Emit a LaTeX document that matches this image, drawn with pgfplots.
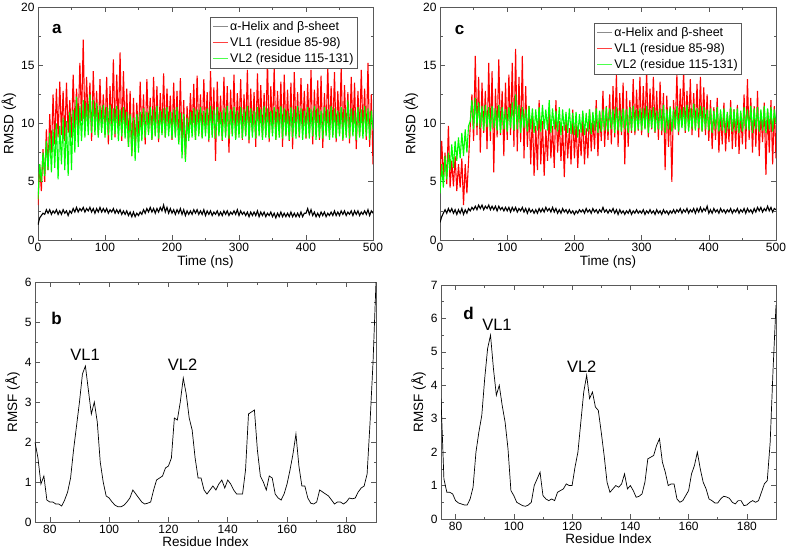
\documentclass[border=0pt]{standalone}
\usepackage{pgfplots}
\pgfplotsset{compat=1.18}
\usepackage{pgfplotstable}
\usepackage{fontspec}
\setmainfont{Liberation Sans}
\definecolor{axgray}{gray}{0.35}

% ---------------- panel a data (every 2.5 ns) ----------------
\pgfplotstableread[row sep=\\]{
y\\
1.3\\1.9\\2.1\\2.3\\2.2\\2.6\\2.3\\2.6\\2.2\\2.5\\2.3\\2.6\\2.2\\2.5\\2.2\\2.6\\2.3\\2.5\\2.1\\2.5\\
2.3\\2.7\\2.4\\2.8\\2.4\\2.7\\2.5\\2.8\\2.4\\2.7\\2.5\\2.8\\2.4\\2.7\\2.3\\2.7\\2.4\\2.8\\2.4\\2.7\\
2.4\\2.7\\2.3\\2.6\\2.4\\2.7\\2.3\\2.6\\2.3\\2.6\\2.2\\2.5\\2.2\\2.5\\2.1\\2.4\\2.0\\2.4\\2.0\\2.3\\
2.1\\2.4\\2.2\\2.6\\2.3\\2.7\\2.4\\2.8\\2.4\\2.7\\2.3\\2.7\\2.4\\2.8\\2.5\\3.0\\2.4\\2.8\\2.3\\2.7\\
2.3\\2.6\\2.2\\2.6\\2.3\\2.7\\2.2\\2.6\\2.1\\2.5\\2.2\\2.5\\2.2\\2.6\\2.3\\2.6\\2.2\\2.5\\2.2\\2.6\\
2.1\\2.5\\2.2\\2.5\\2.1\\2.4\\2.2\\2.5\\2.1\\2.4\\2.1\\2.5\\2.2\\2.5\\2.1\\2.4\\2.2\\2.5\\2.2\\2.6\\
2.1\\2.5\\2.2\\2.4\\2.1\\2.4\\2.0\\2.4\\2.1\\2.4\\2.1\\2.5\\2.0\\2.4\\2.1\\2.4\\2.0\\2.3\\2.1\\2.4\\
2.0\\2.3\\1.9\\2.3\\2.0\\2.4\\2.0\\2.3\\2.0\\2.3\\2.0\\2.4\\2.0\\2.3\\2.0\\2.3\\2.0\\2.4\\2.0\\2.3\\
2.3\\2.7\\2.2\\2.6\\2.1\\2.4\\2.0\\2.3\\2.0\\2.4\\2.1\\2.4\\2.0\\2.3\\2.1\\2.4\\2.1\\2.5\\2.1\\2.4\\
2.1\\2.5\\2.2\\2.5\\2.1\\2.4\\2.2\\2.5\\2.1\\2.5\\2.2\\2.5\\2.1\\2.4\\2.2\\2.5\\2.2\\2.6\\2.1\\2.5\\
2.3\\
}\KA
\pgfplotstableread[row sep=\\]{
y\\
3.0\\6.5\\4.2\\7.8\\5.0\\9.5\\6.0\\10.8\\7.5\\12.5\\8.2\\13.0\\8.8\\13.6\\9.0\\12.8\\8.5\\13.5\\9.2\\12.0\\
8.8\\14.2\\9.5\\13.0\\9.8\\15.2\\10.2\\17.2\\9.5\\14.0\\10.0\\13.5\\8.5\\14.5\\9.8\\12.8\\9.0\\13.8\\9.6\\12.5\\
9.0\\14.0\\8.2\\13.2\\9.5\\15.5\\8.8\\14.2\\9.6\\16.1\\8.5\\14.5\\9.0\\13.0\\8.0\\12.8\\7.2\\12.2\\7.8\\11.8\\
8.5\\13.6\\9.0\\12.5\\8.2\\13.8\\9.3\\12.2\\8.6\\14.0\\9.0\\13.2\\8.4\\12.6\\9.2\\14.3\\8.8\\13.0\\9.5\\12.4\\
8.6\\13.5\\9.0\\12.8\\8.4\\13.9\\8.0\\12.0\\7.0\\11.5\\8.8\\12.6\\9.4\\13.4\\8.6\\14.1\\9.2\\12.5\\8.8\\13.8\\
9.3\\12.7\\8.4\\14.5\\9.0\\13.1\\6.8\\13.6\\9.2\\12.4\\8.5\\14.0\\9.0\\13.2\\7.5\\12.9\\9.1\\14.2\\8.7\\12.6\\
9.4\\13.8\\8.6\\12.5\\9.0\\14.6\\8.3\\13.0\\9.2\\12.7\\8.0\\14.3\\9.5\\13.3\\8.8\\12.6\\9.0\\15.5\\8.4\\13.2\\
9.2\\14.8\\8.6\\12.8\\9.3\\13.6\\8.0\\14.2\\9.0\\12.9\\8.5\\13.5\\7.8\\14.4\\9.1\\12.7\\8.8\\13.9\\9.4\\12.8\\
8.7\\13.4\\9.0\\14.6\\8.2\\12.9\\9.3\\13.7\\8.6\\14.1\\7.9\\12.6\\9.2\\15.0\\8.8\\13.2\\9.0\\14.4\\8.4\\12.8\\
9.1\\14.8\\8.5\\13.3\\9.0\\12.7\\8.3\\14.0\\9.4\\13.5\\7.8\\12.8\\8.9\\14.6\\9.2\\13.0\\8.6\\15.2\\8.0\\12.5\\
6.5\\
}\RA
\pgfplotstableread[row sep=\\]{
y\\
3.5\\6.5\\5.0\\7.5\\5.5\\8.5\\6.0\\9.2\\5.8\\9.5\\6.2\\10.0\\5.2\\9.8\\6.5\\10.5\\6.0\\10.2\\5.5\\11.0\\
6.0\\11.2\\7.5\\12.3\\8.0\\11.5\\8.5\\12.0\\8.8\\11.8\\9.0\\12.5\\9.2\\12.0\\9.0\\11.8\\8.8\\11.5\\9.2\\11.6\\
8.8\\11.4\\9.0\\11.6\\8.6\\11.3\\9.1\\11.5\\8.5\\11.2\\8.9\\11.4\\8.7\\11.0\\8.0\\10.8\\7.2\\10.5\\6.8\\10.8\\
7.5\\11.0\\8.5\\11.3\\8.8\\11.0\\9.0\\11.4\\8.6\\11.2\\8.9\\11.5\\8.7\\11.1\\9.0\\11.3\\8.8\\11.4\\8.9\\11.0\\
8.7\\11.2\\8.8\\11.4\\8.2\\10.9\\7.0\\10.8\\6.7\\10.5\\8.5\\11.0\\8.8\\11.3\\8.6\\11.2\\8.9\\11.4\\8.7\\11.1\\
8.9\\11.3\\8.6\\11.5\\8.8\\11.2\\8.7\\11.4\\8.9\\11.0\\8.6\\11.3\\8.8\\11.5\\8.7\\11.2\\8.9\\11.4\\8.6\\11.1\\
8.8\\11.4\\8.7\\11.2\\8.9\\11.5\\8.6\\11.3\\8.8\\11.1\\8.7\\11.4\\8.9\\11.2\\8.6\\11.5\\8.8\\11.3\\8.7\\11.1\\
8.9\\11.4\\8.6\\11.2\\8.8\\11.5\\8.7\\11.3\\8.9\\11.1\\8.6\\11.4\\8.8\\11.2\\8.7\\11.5\\8.9\\11.3\\8.6\\11.1\\
8.8\\11.4\\8.7\\11.2\\8.9\\11.5\\8.6\\11.3\\8.8\\11.1\\8.7\\11.4\\8.9\\11.2\\8.6\\11.5\\8.8\\11.3\\8.7\\11.1\\
8.9\\11.4\\8.6\\11.2\\8.8\\12.0\\8.7\\11.3\\8.9\\11.1\\8.6\\11.4\\8.8\\11.2\\8.7\\11.5\\8.9\\11.3\\8.6\\11.1\\
9.5\\
}\GA
% ---------------- panel c data (every 2.5 ns) ----------------
\pgfplotstableread[row sep=\\]{
y\\
1.5\\2.0\\2.3\\2.6\\2.3\\2.7\\2.4\\2.7\\2.3\\2.6\\2.2\\2.6\\2.3\\2.7\\2.2\\2.6\\2.3\\2.7\\2.5\\2.8\\
2.6\\2.9\\2.6\\3.0\\2.7\\3.0\\2.6\\2.9\\2.7\\3.0\\2.6\\2.9\\2.6\\2.9\\2.5\\2.9\\2.6\\2.8\\2.5\\2.8\\
2.5\\2.8\\2.4\\2.8\\2.5\\2.8\\2.4\\2.7\\2.5\\2.8\\2.4\\2.7\\2.3\\2.7\\2.4\\2.6\\2.3\\2.6\\2.3\\2.7\\
2.4\\2.7\\2.4\\2.8\\2.5\\2.7\\2.4\\2.8\\2.4\\2.7\\2.3\\2.6\\2.3\\2.7\\2.4\\2.6\\2.3\\2.6\\2.3\\2.5\\
2.2\\2.5\\2.3\\2.6\\2.4\\2.6\\2.3\\2.7\\2.4\\2.6\\2.3\\2.7\\2.4\\2.6\\2.3\\2.6\\2.4\\2.8\\2.4\\2.6\\
2.3\\2.6\\2.4\\2.7\\2.3\\2.6\\2.2\\2.6\\2.3\\2.5\\2.2\\2.5\\2.3\\2.6\\2.2\\2.5\\2.3\\2.6\\2.3\\2.5\\
2.3\\2.6\\2.2\\2.5\\2.3\\2.6\\2.3\\2.5\\2.2\\2.6\\2.3\\2.5\\2.2\\2.6\\2.3\\2.5\\2.2\\2.5\\2.3\\2.6\\
2.3\\2.6\\2.4\\2.7\\2.3\\2.6\\2.4\\2.7\\2.3\\2.6\\2.4\\2.7\\2.3\\2.7\\2.4\\2.8\\2.4\\2.7\\2.5\\2.9\\
2.3\\2.6\\2.3\\2.7\\2.4\\2.6\\2.3\\2.7\\2.4\\2.6\\2.3\\2.6\\2.4\\2.7\\2.3\\2.6\\2.4\\2.7\\2.3\\2.6\\
2.4\\2.7\\2.3\\2.7\\2.4\\2.6\\2.3\\2.7\\2.4\\2.8\\2.5\\2.8\\2.4\\2.7\\2.5\\2.9\\2.5\\2.8\\2.4\\2.7\\
2.6\\
}\KC
\pgfplotstableread[row sep=\\]{
y\\
5.0\\8.5\\5.5\\7.5\\4.8\\9.8\\4.5\\6.8\\4.6\\7.2\\4.2\\6.5\\4.5\\7.0\\3.0\\6.5\\4.0\\6.8\\9.8\\12.5\\
8.5\\15.8\\9.0\\14.0\\7.5\\13.5\\9.2\\12.8\\7.8\\15.2\\8.5\\14.5\\5.8\\13.0\\8.8\\15.5\\9.0\\12.8\\7.2\\13.5\\
8.6\\14.2\\9.0\\15.2\\8.0\\16.4\\7.6\\14.0\\8.4\\15.8\\7.0\\13.2\\8.0\\11.5\\6.5\\10.8\\5.5\\9.8\\6.0\\12.0\\
6.5\\10.2\\5.5\\9.5\\6.8\\11.0\\7.0\\9.8\\6.2\\12.0\\7.5\\10.2\\6.8\\9.8\\5.4\\10.5\\7.0\\9.6\\6.5\\11.2\\
7.0\\10.0\\6.2\\9.5\\7.2\\10.8\\6.5\\9.6\\7.0\\11.2\\7.6\\10.4\\7.8\\12.0\\7.2\\11.0\\8.5\\12.8\\8.0\\11.5\\
8.6\\12.5\\8.2\\13.2\\8.8\\14.2\\8.0\\12.6\\9.0\\13.5\\6.5\\12.8\\8.0\\12.0\\9.2\\13.8\\9.0\\12.9\\9.4\\14.0\\
9.0\\13.2\\9.6\\14.5\\8.8\\13.0\\9.5\\14.0\\9.2\\12.8\\8.6\\13.6\\9.0\\12.6\\6.0\\12.4\\8.0\\11.5\\5.0\\12.0\\
9.5\\14.2\\9.0\\13.0\\9.8\\14.6\\9.2\\12.8\\9.6\\13.8\\9.0\\12.6\\9.5\\13.4\\8.8\\14.0\\9.3\\13.1\\9.0\\12.5\\
8.5\\12.0\\7.8\\11.4\\8.6\\12.2\\7.5\\11.0\\8.2\\11.8\\7.6\\10.8\\8.4\\12.0\\7.8\\11.2\\8.0\\11.6\\7.4\\10.9\\
8.2\\12.5\\7.8\\13.8\\8.6\\12.2\\7.5\\11.5\\8.0\\12.8\\7.2\\11.0\\8.4\\11.8\\5.6\\11.2\\7.5\\12.0\\6.5\\11.5\\
7.0\\
}\RC
\pgfplotstableread[row sep=\\]{
y\\
4.0\\6.5\\4.5\\7.2\\5.2\\7.5\\6.0\\8.2\\6.2\\8.5\\6.8\\8.8\\7.0\\9.2\\7.2\\9.5\\7.5\\9.8\\10.2\\12.0\\
9.5\\12.2\\9.8\\11.8\\9.6\\11.5\\9.4\\11.6\\9.7\\11.4\\9.3\\11.5\\9.6\\11.3\\9.4\\11.6\\9.2\\11.4\\9.5\\11.2\\
9.3\\11.4\\9.6\\11.8\\9.4\\12.5\\9.5\\11.6\\9.2\\11.4\\9.6\\11.2\\9.3\\11.5\\9.5\\11.3\\9.2\\11.2\\9.4\\11.4\\
9.3\\11.6\\9.5\\11.2\\9.4\\12.0\\9.2\\11.3\\9.5\\11.1\\9.3\\11.4\\9.0\\11.2\\9.4\\11.0\\9.2\\11.3\\9.1\\10.9\\
9.0\\11.0\\8.8\\10.8\\9.2\\11.1\\9.0\\10.9\\9.3\\11.2\\9.1\\11.0\\9.4\\11.3\\9.2\\11.1\\9.3\\11.2\\9.4\\11.4\\
9.3\\11.3\\9.5\\11.2\\9.2\\11.4\\9.4\\11.1\\9.3\\11.3\\9.5\\11.2\\9.2\\11.4\\9.4\\11.5\\9.3\\11.2\\9.5\\11.3\\
9.4\\11.3\\9.5\\11.5\\9.2\\11.2\\9.6\\11.4\\9.3\\11.1\\9.5\\11.3\\9.4\\11.6\\9.2\\11.2\\9.5\\11.4\\9.3\\11.2\\
9.5\\11.5\\9.3\\11.2\\9.6\\11.4\\9.4\\11.6\\9.3\\11.3\\9.5\\11.7\\9.4\\11.3\\9.6\\11.5\\9.3\\11.4\\9.5\\11.2\\
9.4\\11.3\\9.2\\11.1\\9.5\\11.4\\9.3\\11.2\\9.4\\11.3\\9.2\\11.0\\9.5\\11.4\\9.3\\11.2\\9.4\\11.3\\9.2\\11.1\\
9.3\\11.4\\9.5\\11.2\\9.4\\11.5\\9.2\\11.3\\9.5\\11.4\\9.3\\11.2\\9.4\\11.5\\9.2\\11.3\\9.5\\11.4\\9.3\\11.2\\
10.0\\
}\GC

\pgfplotsset{
  xmg/.style={
    scale only axis,
    axis line style={axgray, line width=0.8pt},
    every tick/.style={axgray, line width=0.6pt},
    tick align=inside,
    major tick length=5pt, minor tick length=2.5pt,
    minor tick num=1,
    tick label style={font=\fontsize{12}{12}\selectfont},
    label style={font=\fontsize{13.5}{14}\selectfont},
    /pgf/number format/assume math mode=true,
    scaled ticks=false,
    clip=true,
  },
  tsax/.style={
    xmg, xmin=0, xmax=500, ymin=0, ymax=20,
    xtick={0,100,...,500}, ytick={0,5,...,20},
    xlabel={Time (ns)}, ylabel={RMSD (Å)},
    xlabel style={yshift=3pt}, ylabel style={yshift=-2pt},
    legend cell align=left,
    legend style={draw=axgray, line width=0.6pt, fill=white,
      font=\fontsize{12.5}{13}\selectfont, inner xsep=2pt, inner ysep=2pt,
      row sep=1.5pt},
    legend image code/.code={\draw[#1, line width=0.6pt] (0pt,0pt) -- (15pt,0pt);},
  },
  rfax/.style={
    xmg, xmin=75, xmax=190, ymin=0,
    xtick={80,100,...,180},
    xlabel={Residue Index}, ylabel={RMSF (Å)},
    xlabel style={yshift=4pt}, ylabel style={yshift=-2pt},
  },
}

\begin{document}
\begin{tikzpicture}
\useasboundingbox (0pt,0pt) rectangle (787pt,550pt);

% ---------------- a ----------------
\begin{axis}[tsax, at={(38pt,310pt)}, anchor=south west, width=335pt, height=233pt,
  legend style={at={(0.955,0.957)}, anchor=north east}]
\addlegendimage{black!45}
\addlegendimage{red!75}
\addlegendimage{green!70}
\addplot[black, line width=1.1pt, forget plot] table[x expr=\coordindex*2.5, y=y] {\KA};
\addplot[red, line width=1.1pt, forget plot] table[x expr=\coordindex*2.5, y=y] {\RA};
\addplot[green, line width=1.1pt, forget plot] table[x expr=\coordindex*2.5, y=y] {\GA};
\legend{α-Helix and β-sheet, VL1 (residue 85-98), VL2 (residue 115-131)}
\node[font=\bfseries\fontsize{17}{17}\selectfont] at (axis cs:28,18.1) {a};
\end{axis}

% ---------------- c ----------------
\begin{axis}[tsax, at={(440pt,310pt)}, anchor=south west, width=336pt, height=233pt,
  legend style={at={(0.899,0.931)}, anchor=north east}]
\addlegendimage{black!45}
\addlegendimage{red!75}
\addlegendimage{green!70}
\addplot[black, line width=1.1pt, forget plot] table[x expr=\coordindex*2.5, y=y] {\KC};
\addplot[red, line width=1.1pt, forget plot] table[x expr=\coordindex*2.5, y=y] {\RC};
\addplot[green, line width=1.1pt, forget plot] table[x expr=\coordindex*2.5, y=y] {\GC};
\legend{α-Helix and β-sheet, VL1 (residue 85-98), VL2 (residue 115-131)}
\node[font=\bfseries\fontsize{17}{17}\selectfont] at (axis cs:29,18.05) {c};
\end{axis}

% ---------------- b ----------------
\begin{axis}[rfax, at={(35pt,28pt)}, anchor=south west, width=341pt, height=240pt,
  ymax=6, ytick={0,1,...,6}]
\addplot[black, line width=0.7pt] coordinates {
(75,2.0)(76,1.6)(77,0.95)(78,1.15)(79,0.55)(80,0.5)(81,0.5)(82,0.45)(83,0.45)(84,0.4)
(85,0.55)(86,0.75)(87,1.1)(88,1.8)(89,2.4)(90,3.0)(91,3.7)(92,3.9)(93,3.3)(94,2.7)
(95,3.0)(96,2.5)(97,1.5)(98,1.0)(99,0.65)(100,0.6)(101,0.5)(102,0.42)(103,0.38)(104,0.38)
(105,0.42)(106,0.5)(107,0.6)(108,0.8)(109,0.7)(110,0.6)(111,0.5)(112,0.45)(113,0.47)(114,0.5)
(115,0.8)(116,1.05)(117,1.1)(118,1.15)(119,1.35)(120,1.4)(121,1.6)(122,2.6)(123,2.55)(124,3.0)
(125,3.6)(126,3.2)(127,2.6)(128,2.3)(129,1.6)(130,1.1)(131,1.1)(132,0.8)(133,0.7)(134,0.8)
(135,0.9)(136,0.8)(137,0.95)(138,1.05)(139,0.85)(140,1.05)(141,0.95)(142,0.8)(143,0.7)(144,0.7)
(145,0.7)(146,1.3)(147,2.7)(148,2.75)(149,2.8)(150,1.8)(151,1.15)(152,1.0)(153,0.8)(154,1.15)
(155,1.1)(156,0.7)(157,0.6)(158,0.55)(159,0.7)(160,0.95)(161,1.3)(162,1.7)(163,2.2)(164,1.4)
(165,0.9)(166,0.9)(167,0.6)(168,0.47)(169,0.45)(170,0.5)(171,0.8)(172,0.75)(173,0.7)(174,0.65)
(175,0.55)(176,0.45)(177,0.5)(178,0.5)(179,0.45)(180,0.5)(181,0.6)(182,0.58)(183,0.6)(184,0.75)
(185,0.85)(186,0.9)(187,1.2)(188,2.5)(189,4.0)(190,6.0)
};
\node[font=\bfseries\fontsize{17}{17}\selectfont] at (axis cs:82.3,5.08) {b};
\node[font=\fontsize{16.5}{16.5}\selectfont] at (axis cs:91.9,4.17) {VL1};
\node[font=\fontsize{16.5}{16.5}\selectfont] at (axis cs:124.8,3.93) {VL2};
\end{axis}

% ---------------- d ----------------
\begin{axis}[rfax, at={(441pt,31pt)}, anchor=south west, width=335pt, height=234pt,
  ymax=7, ytick={0,1,...,7}]
\addplot[black, line width=0.7pt] coordinates {
(75,3.6)(76,1.2)(77,0.8)(78,0.8)(79,0.75)(80,0.55)(81,0.48)(82,0.45)(83,0.42)(84,0.42)
(85,0.6)(86,0.95)(87,2.0)(88,2.6)(89,3.1)(90,4.2)(91,5.1)(92,5.5)(93,4.5)(94,3.7)
(95,4.0)(96,3.4)(97,2.9)(98,2.1)(99,0.85)(100,0.7)(101,0.5)(102,0.45)(103,0.4)(104,0.38)
(105,0.42)(106,0.5)(107,1.0)(108,1.2)(109,1.4)(110,0.7)(111,0.6)(112,0.55)(113,0.6)(114,0.55)
(115,0.8)(116,0.85)(117,0.9)(118,1.05)(119,1.0)(120,1.0)(121,1.55)(122,2.0)(123,2.9)(124,3.8)
(125,4.3)(126,3.6)(127,3.8)(128,3.35)(129,3.25)(130,2.6)(131,1.9)(132,1.1)(133,0.8)(134,0.9)
(135,1.0)(136,0.95)(137,1.05)(138,1.35)(139,0.9)(140,1.0)(141,0.85)(142,0.65)(143,0.68)(144,0.75)
(145,1.1)(146,1.8)(147,1.85)(148,1.9)(149,2.2)(150,2.4)(151,1.7)(152,1.4)(153,1.0)(154,1.05)
(155,1.05)(156,0.6)(157,0.5)(158,0.55)(159,0.7)(160,0.85)(161,1.35)(162,1.6)(163,2.0)(164,1.5)
(165,1.1)(166,0.9)(167,0.6)(168,0.55)(169,0.48)(170,0.48)(171,0.6)(172,0.68)(173,0.66)(174,0.62)
(175,0.5)(176,0.45)(177,0.55)(178,0.55)(179,0.4)(180,0.42)(181,0.5)(182,0.55)(183,0.5)(184,0.55)
(185,0.8)(186,1.05)(187,1.15)(188,2.3)(189,4.5)(190,6.4)
};
\node[font=\bfseries\fontsize{17}{17}\selectfont] at (axis cs:84.5,6.15) {d};
\node[font=\fontsize{16.5}{16.5}\selectfont] at (axis cs:94.2,5.82) {VL1};
\node[font=\fontsize{16.5}{16.5}\selectfont] at (axis cs:123.3,4.55) {VL2};
\end{axis}
\end{tikzpicture}
\end{document}
